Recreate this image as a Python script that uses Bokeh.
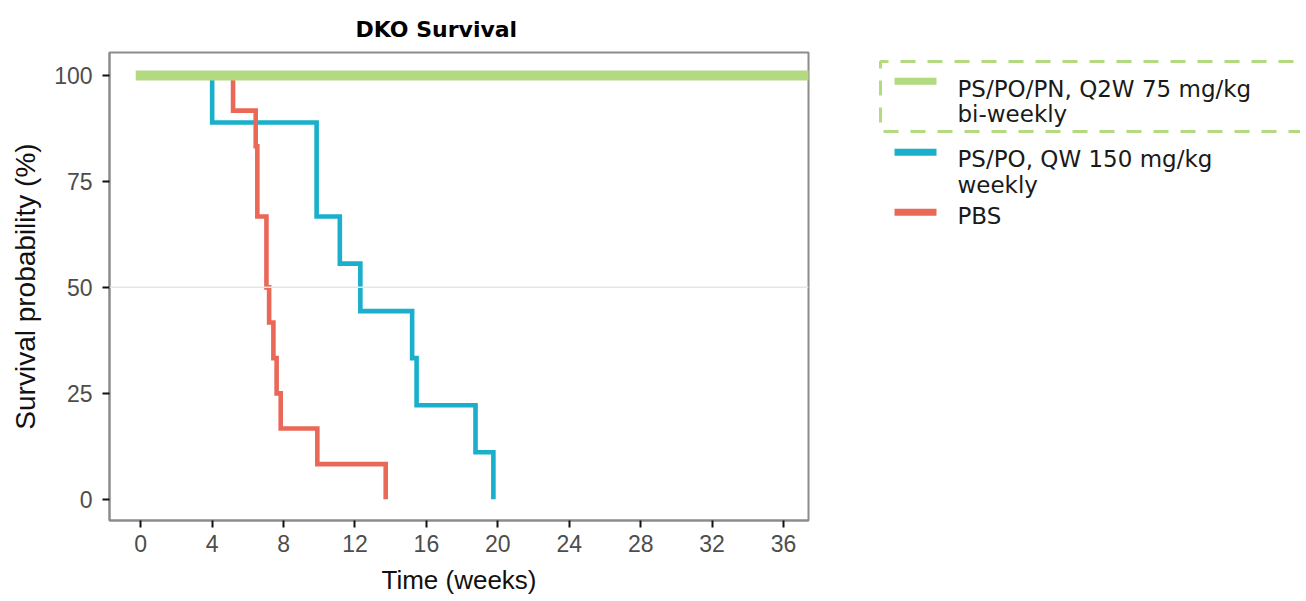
from bokeh.plotting import figure
from bokeh.layouts import row
from bokeh.models import Range1d, Span, FixedTicker
from bokeh.core.properties import value
from bokeh.embed import file_html
from bokeh.resources import INLINE

# ---- data ----
title_text = "DKO Survival"
series = ["PS/PO/PN, Q2W 75 mg/kg\nbi-weekly", "PS/PO, QW 150 mg/kg\nweekly", "PBS"]
colors = ["#B3D981", "#1AAFCA", "#EA6858"]

green_t = [0.0, 38.0]
green_s = [100.0, 100.0]

blue_t = [0.0, 4.0, 9.85, 11.15, 12.3, 15.2, 15.45, 18.75, 19.75]
blue_s = [100.0, 88.9, 66.7, 55.6, 44.4, 33.3, 22.2, 11.1, 0.0]

red_t = [0.0, 5.17, 6.44, 6.53, 7.04, 7.19, 7.43, 7.61, 7.84, 9.89, 13.72]
red_s = [100.0, 91.7, 83.3, 66.7, 50.0, 41.7, 33.3, 25.0, 16.7, 8.3, 0.0]

x_ticks = [0, 4, 8, 12, 16, 20, 24, 28, 32, 36]
y_ticks = [0, 25, 50, 75, 100]

TICK_FONT = "Liberation Sans"
LEG_FONT = "DejaVu Sans"

# ---- layout constants (page pixels) ----
H = 600
FR_L, FR_R, FR_T, FR_B = 109, 808, 52, 520
W = 820

# ---- main plot ----
p = figure(width=W, height=H, output_backend="svg", toolbar_location=None,
           x_range=Range1d(-1.75, 37.4), y_range=Range1d(-5.0, 105.4),
           min_border_left=FR_L, min_border_right=W - FR_R, min_border_top=FR_T,
           min_border_bottom=H - FR_B, title=title_text)
p.title.text_font = "DejaVu Sans"
p.title.text_font_style = "bold"
p.title.text_font_size = "22px"
p.title.text_color = "#000000"
p.title.align = "left"
p.title.offset = 246
p.title.standoff = 22

p.xgrid.visible = False
p.ygrid.visible = False
p.outline_line_color = "#8c8c8c"
p.outline_line_width = 2
p.background_fill_color = "white"

p.add_layout(Span(location=50, dimension="width", line_color="#E6E6E6", line_width=1.5))

for ax in (p.xaxis[0], p.yaxis[0]):
    ax.axis_line_color = "#8c8c8c"
    ax.axis_line_width = 2
    ax.major_tick_line_color = "#111111"
    ax.major_tick_line_width = 2
    ax.major_tick_out = 7
    ax.major_tick_in = 0
    ax.minor_tick_line_color = None
    ax.major_label_text_font = TICK_FONT
    ax.major_label_text_font_size = "23px"
    ax.major_label_text_color = "#4D4D4D"
    ax.axis_label_text_font = TICK_FONT
    ax.axis_label_text_font_style = "normal"
    ax.axis_label_text_color = "#111111"

p.xaxis.axis_label_text_font_size = "26px"
p.yaxis.axis_label_text_font_size = "28px"
p.xaxis.ticker = FixedTicker(ticks=x_ticks)
p.yaxis.ticker = FixedTicker(ticks=y_ticks)
p.xaxis.axis_label = "Time (weeks)"
p.yaxis.axis_label = "Survival probability (%)"
p.xaxis.major_label_standoff = 7
p.yaxis.major_label_standoff = 10
p.xaxis.axis_label_standoff = 10
p.yaxis.axis_label_standoff = 10

p.step(blue_t, blue_s, mode="after", line_color=colors[1], line_width=4.6, line_join="miter")
p.step(red_t, red_s, mode="after", line_color=colors[2], line_width=4.6, line_join="miter")
p.line(green_t, green_s, line_color=colors[0], line_width=10, line_cap="square")

# ---- legend panel (coordinates = page pixels, x offset by W) ----
LW = 1300 - W
lg = figure(width=LW, height=H, output_backend="svg", toolbar_location=None,
            x_range=Range1d(W, W + LW), y_range=Range1d(FR_B, FR_T),
            min_border_left=0, min_border_right=0,
            min_border_top=FR_T, min_border_bottom=H - FR_B)
lg.axis.visible = False
lg.grid.visible = False
lg.outline_line_color = None

# dashed box around first entry
box_l, box_t, box_b = 880, 61, 131
lg.line([W + LW + 20, box_l, box_l, W + LW + 20], [box_t, box_t, box_b, box_b],
        line_color=colors[0], line_width=3, line_dash="15 12")

key_y = [80.7, 151.7, 211.7]
base_y = [96.7, 167.3, 224.3]
line_gap = 25.5
shift = 8.5  # rendering offset of the alphabetic baseline
for i, lab in enumerate(series):
    lg.line([894, 936], [key_y[i], key_y[i]], line_color=colors[i], line_width=7)
    lines = lab.split("\n")
    ys = [base_y[i] - shift + k * line_gap for k in range(len(lines))]
    lg.text(x=[957] * len(lines), y=ys, text=lines,
            text_font=value(LEG_FONT), text_font_size="23px",
            text_color="#1a1a1a", text_baseline="alphabetic", text_align="left")

layout = row(p, lg)
open("out.html", "w").write(file_html(layout, INLINE))
